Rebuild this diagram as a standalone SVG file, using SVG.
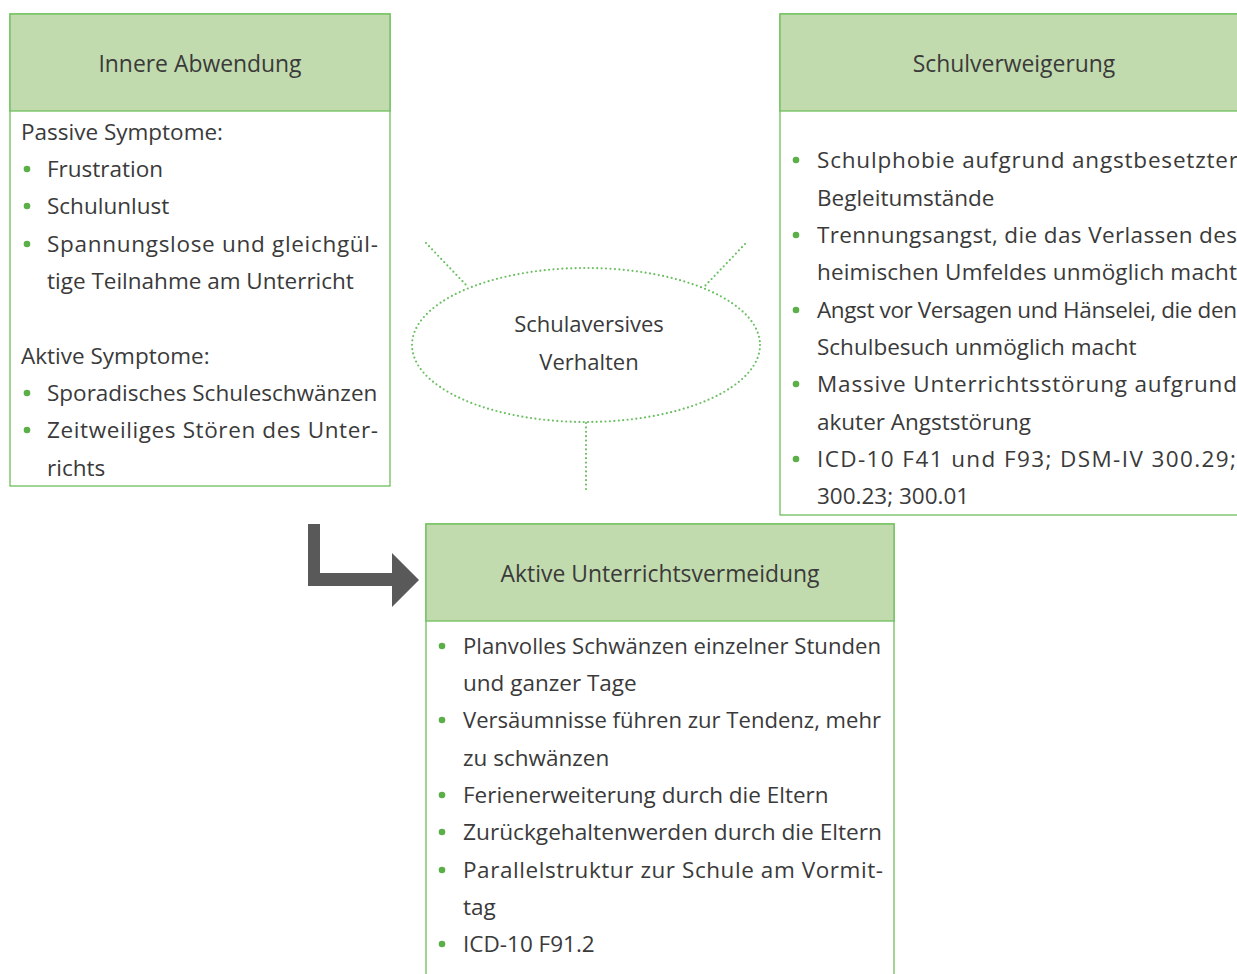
<svg xmlns="http://www.w3.org/2000/svg" width="1237" height="974" viewBox="0 0 1237 974">
<style>
.box{fill:#fff;stroke:#6dbf5b;stroke-width:1.3}
.hdr{fill:#c2dbae;stroke:#6dbf5b;stroke-width:1.3}
text{font-family:"Open Sans","Noto Sans",sans-serif;font-size:22.5px;fill:#3a3a3a}
.h{text-anchor:middle;font-size:22.9px}
.e{text-anchor:middle;font-size:22px}
.b{fill:#5aaf47}
.dot{fill:none;stroke:#6cc063;stroke-width:2.2;stroke-linecap:round;stroke-dasharray:0 4.4}
</style>
<rect width="1237" height="974" fill="#fff"/>
<g id="innere-abwendung">
<rect class="box" x="10" y="14" width="380" height="472"/>
<rect class="hdr" x="10" y="14" width="380" height="97"/>
<text class="h" x="200" y="72">Innere Abwendung</text>
<text x="21" y="140">Passive Symptome:</text>
<circle class="b" cx="27" cy="169" r="3.3"/><text x="47" y="177">Frustration</text>
<circle class="b" cx="27" cy="206" r="3.3"/><text x="47" y="214">Schulunlust</text>
<circle class="b" cx="27" cy="244" r="3.3"/><text x="47" y="252" textLength="331" lengthAdjust="spacing">Spannungslose und gleichgül-</text>
<text x="47" y="289">tige Teilnahme am Unterricht</text>
<text x="21" y="364">Aktive Symptome:</text>
<circle class="b" cx="27" cy="393" r="3.3"/><text x="47" y="401">Sporadisches Schuleschwänzen</text>
<circle class="b" cx="27" cy="430" r="3.3"/><text x="47" y="438" textLength="331" lengthAdjust="spacing">Zeitweiliges Stören des Unter-</text>
<text x="47" y="476">richts</text>
</g>
<g id="schulverweigerung">
<rect class="box" x="780" y="14" width="470" height="501"/>
<rect class="hdr" x="780" y="14" width="470" height="97"/>
<text class="h" x="1014" y="72">Schulverweigerung</text>
<circle class="b" cx="796" cy="160" r="3.3"/><text x="817" y="168" textLength="421" lengthAdjust="spacing">Schulphobie aufgrund angstbesetzter</text>
<text x="817" y="206">Begleitumstände</text>
<circle class="b" cx="796" cy="235" r="3.3"/><text x="817" y="243" textLength="420" lengthAdjust="spacing">Trennungsangst, die das Verlassen des</text>
<text x="817" y="280" textLength="420" lengthAdjust="spacing">heimischen Umfeldes unmöglich macht</text>
<circle class="b" cx="796" cy="310" r="3.3"/><text x="817" y="318" textLength="420" lengthAdjust="spacing">Angst vor Versagen und Hänselei, die den</text>
<text x="817" y="355">Schulbesuch unmöglich macht</text>
<circle class="b" cx="796" cy="384" r="3.3"/><text x="817" y="392" textLength="420" lengthAdjust="spacing">Massive Unterrichtsstörung aufgrund</text>
<text x="817" y="430">akuter Angststörung</text>
<circle class="b" cx="796" cy="459" r="3.3"/><text x="817" y="467" textLength="419" lengthAdjust="spacing">ICD-10 F41 und F93; DSM-IV 300.29;</text>
<text x="817" y="504">300.23; 300.01</text>
</g>
<g id="aktive-unterrichtsvermeidung">
<rect class="box" x="426" y="524" width="468" height="460"/>
<rect class="hdr" x="426" y="524" width="468" height="97"/>
<text class="h" x="660" y="582">Aktive Unterrichtsvermeidung</text>
<circle class="b" cx="442" cy="646" r="3.3"/><text x="463" y="654" textLength="418" lengthAdjust="spacingAndGlyphs">Planvolles Schwänzen einzelner Stunden</text>
<text x="463" y="691">und ganzer Tage</text>
<circle class="b" cx="442" cy="720" r="3.3"/><text x="463" y="728" textLength="418" lengthAdjust="spacingAndGlyphs">Versäumnisse führen zur Tendenz, mehr</text>
<text x="463" y="766">zu schwänzen</text>
<circle class="b" cx="442" cy="795" r="3.3"/><text x="463" y="803">Ferienerweiterung durch die Eltern</text>
<circle class="b" cx="442" cy="832" r="3.3"/><text x="463" y="840" textLength="419" lengthAdjust="spacingAndGlyphs">Zurückgehaltenwerden durch die Eltern</text>
<circle class="b" cx="442" cy="870" r="3.3"/><text x="463" y="878" textLength="420" lengthAdjust="spacing">Parallelstruktur zur Schule am Vormit-</text>
<text x="463" y="915">tag</text>
<circle class="b" cx="442" cy="944" r="3.3"/><text x="463" y="952">ICD-10 F91.2</text>
</g>
<g id="schulaversives-verhalten">
<ellipse class="dot" cx="586" cy="345" rx="174" ry="77"/>
<text class="e" x="589" y="332">Schulaversives</text>
<text class="e" x="589" y="370">Verhalten</text>
</g>
<g id="connectors">
<line class="dot" x1="426" y1="243" x2="468" y2="287"/>
<line class="dot" x1="745" y1="244" x2="703" y2="288"/>
<line class="dot" x1="586" y1="423" x2="586" y2="492"/>
<path d="M308 524H320V573H392V553L419 580L392 607V586H308Z" fill="#595959"/>
</g>
</svg>
